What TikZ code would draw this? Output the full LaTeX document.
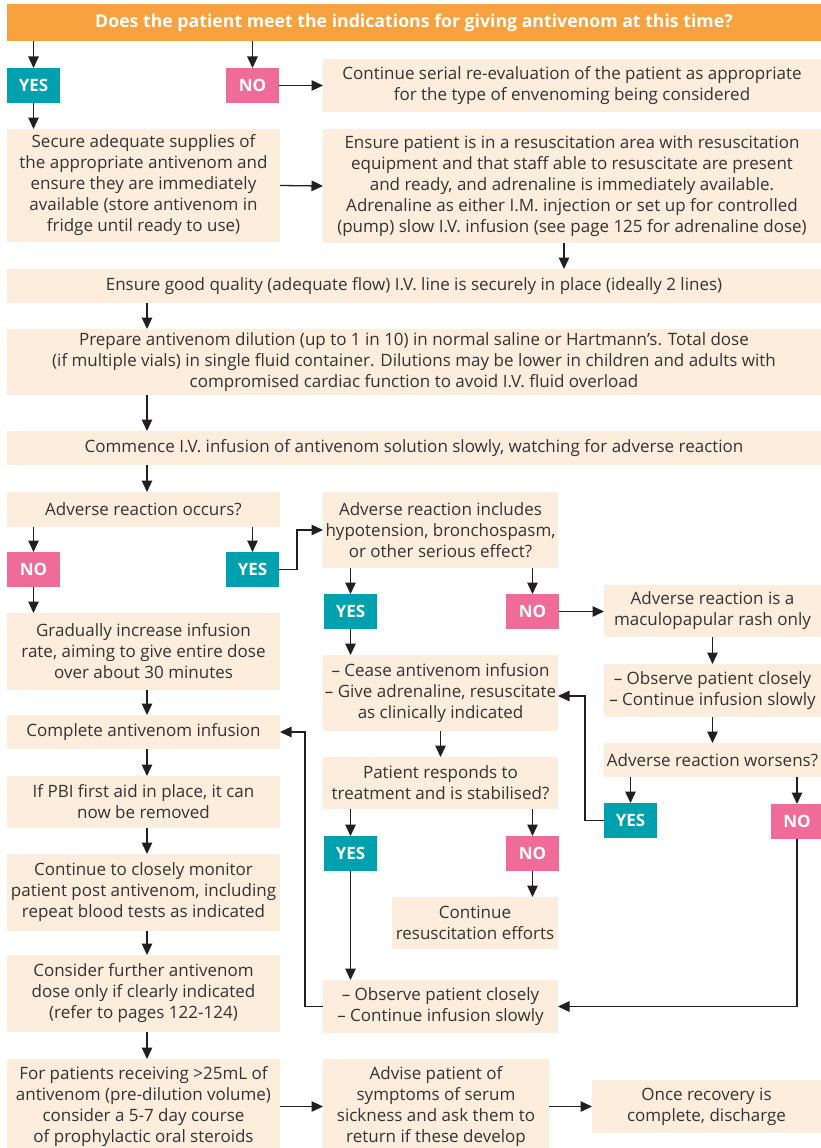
\documentclass[tikz,border=0pt]{standalone}
\usepackage{fontspec}
\setmainfont{Open Sans}
\usetikzlibrary{arrows.meta}
\definecolor{barc}{HTML}{F8A13F}
\definecolor{yesc}{HTML}{00A1AF}
\definecolor{noc}{HTML}{EF6C99}
\definecolor{boxc}{HTML}{FDEDDC}
\definecolor{textc}{HTML}{333333}
\definecolor{linec}{HTML}{231F20}
\begin{document}
\begin{tikzpicture}[x=1pt,y=-1pt,
  every node/.style={inner sep=0pt, outer sep=0pt, anchor=north west, align=center,
    font=\fontsize{17}{21}\selectfont},
  box/.style={fill=boxc, text=textc},
  titlebar/.style={fill=barc, text=white, font=\fontsize{17.7}{21}\selectfont\bfseries},
  yesbox/.style={fill=yesc, text=white, minimum width=53pt, minimum height=35pt, font=\fontsize{17}{21}\selectfont\bfseries},
  nobox/.style={fill=noc, text=white, minimum width=53pt, minimum height=35pt, font=\fontsize{17}{21}\selectfont\bfseries},
  arr/.style={draw=linec, line width=1.3pt, -{Triangle[length=11.5pt,width=10.5pt]}},
  lcol/.style={xshift=3.5pt}]
\useasboundingbox (0,0) rectangle (821,1148);
\fill[white] (0,0) rectangle (821,1148);

% top row
\node[titlebar, minimum width=814pt, minimum height=37pt] (title) at (7,4)
  {Does the patient meet the indications for giving antivenom at this time?};
\node[yesbox] (yes1) at (7,68) {YES};
\node[nobox] (no1) at (226,68) {NO};
\node[box, minimum width=498pt, minimum height=53pt] (serial) at (323,59)
  {Continue serial re-evaluation of the patient as appropriate\\for the type of envenoming being considered};
\node[box, minimum width=273pt, minimum height=113pt] (secure) at (7,129)
  {Secure adequate supplies of\\the appropriate antivenom and\\ensure they are immediately\\available (store antivenom in\\fridge until ready to use)};
\node[box, minimum width=498pt, minimum height=114pt] (ensure) at (323,129)
  {Ensure patient is in a resuscitation area with resuscitation\\equipment and that staff able to resuscitate are present\\and ready, and adrenaline is immediately available.\\Adrenaline as either I.M. injection or set up for controlled\\(pump) slow I.V. infusion (see page 125 for adrenaline dose)};

% full-width steps
\node[box, minimum width=814pt, minimum height=34pt] (ivline) at (7,269)
  {Ensure good quality (adequate flow) I.V. line is securely in place (ideally 2 lines)};
\node[box, minimum width=814pt, minimum height=66pt] (prepare) at (7,329)
  {Prepare antivenom dilution (up to 1 in 10) in normal saline or Hartmann’s. Total dose\\(if multiple vials) in single fluid container. Dilutions may be lower in children and adults with\\compromised cardiac function to avoid I.V. fluid overload};
\node[box, minimum width=814pt, minimum height=34pt] (commence) at (7,431)
  {Commence I.V. infusion of antivenom solution slowly, watching for adverse reaction};

% left column
\node[box, minimum width=273pt, minimum height=35pt] (occurs) at (7,492) {Adverse reaction occurs?};
\node[nobox] (no2) at (7,552) {NO};
\node[yesbox] (yes2) at (226,552) {YES};
\node[box, minimum width=273pt, minimum height=77pt] (gradual) at (7,613)
  {Gradually increase infusion\\rate, aiming to give entire dose\\over about 30 minutes};
\node[box, minimum width=273pt, minimum height=34pt] (complete) at (7,715) {Complete antivenom infusion};
\node[box, minimum width=273pt, minimum height=52pt] (pbi) at (7,776)
  {If PBI first aid in place, it can\\now be removed};
\node[box, minimum width=273pt, minimum height=77pt] (monitor) at (7,854)
  {Continue to closely monitor\\patient post antivenom, including\\repeat blood tests as indicated};
\node[box, minimum width=273pt, minimum height=77pt] (consider) at (7,955)
  {Consider further antivenom\\dose only if clearly indicated\\(refer to pages 122-124)};
\node[box, minimum width=273pt, minimum height=95pt] (forpat) at (7,1059)
  {For patients receiving >25mL of\\antivenom (pre-dilution volume)\\consider a 5-7 day course\\of prophylactic oral steroids};

% middle column
\node[box, minimum width=235pt, minimum height=76pt] (includes) at (323,492)
  {Adverse reaction includes\\hypotension, bronchospasm,\\or other serious effect?};
\node[yesbox] (yes3) at (324,594) {YES};
\node[nobox] (no3) at (506,594) {NO};
\node[box, minimum width=235pt, minimum height=76pt] (cease) at (323,655)
  {– Cease antivenom infusion\\– Give adrenaline, resuscitate\\as clinically indicated};
\node[box, minimum width=235pt, minimum height=52pt] (responds) at (323,757)
  {Patient responds to\\treatment and is stabilised?};
\node[yesbox] (yes5) at (324,836) {YES};
\node[nobox] (no5) at (506,836) {NO};
\node[box, minimum width=166pt, minimum height=52pt] (resus) at (392,897)
  {Continue\\resuscitation efforts};
\node[box, minimum width=235pt, minimum height=53pt] (observe2) at (323,980)
  {– Observe patient closely\\– Continue infusion slowly};
\node[box, minimum width=226pt, minimum height=95pt] (advise) at (323,1059)
  {Advise patient of\\symptoms of serum\\sickness and ask them to\\return if these develop};

% right column
\node[box, minimum width=217pt, minimum height=52pt] (rash) at (604,585)
  {Adverse reaction is a\\maculopapular rash only};
\node[box, minimum width=217pt, minimum height=53pt] (observe1) at (604,664)
  {– Observe patient closely\\– Continue infusion slowly};
\node[box, minimum width=217pt, minimum height=34pt] (worsens) at (604,743) {Adverse reaction worsens?};
\node[yesbox] (yes4) at (604,803) {YES};
\node[nobox, minimum width=52pt] (no4) at (771,804) {NO};
\node[box, minimum width=229pt, minimum height=53pt] (recovery) at (592,1080)
  {Once recovery is\\complete, discharge};

% connectors: top
\draw[arr] (title.south -| yes1.north) -- (yes1.north);
\draw[arr] (title.south -| no1.north) -- (no1.north);
\draw[arr] (no1.east) -- (serial.west);
\draw[arr] (yes1.south) -- (yes1.south |- secure.north);
\draw[arr] (secure.east) -- (ensure.west);
\draw[arr] ([xshift=-8pt]ensure.south) -- ([xshift=-8pt]ensure.south |- ivline.north);
\draw[arr] ([lcol]ivline.south -| occurs.north) -- ([lcol]prepare.north -| occurs.north);
\draw[arr] ([lcol]prepare.south -| occurs.north) -- ([lcol]commence.north -| occurs.north);
\draw[arr] ([lcol]commence.south -| occurs.north) -- ([lcol]occurs.north);

% connectors: left column
\draw[arr] (occurs.south -| no2.north) -- (no2.north);
\draw[arr] (occurs.south -| yes2.north) -- (yes2.north);
\draw[arr] (no2.south) -- (no2.south |- gradual.north);
\draw[arr] ([lcol]gradual.south) -- ([lcol]complete.north);
\draw[arr] ([lcol]complete.south) -- ([lcol]pbi.north);
\draw[arr] ([lcol]pbi.south) -- ([lcol]monitor.north);
\draw[arr] ([lcol]monitor.south) -- ([lcol]consider.north);
\draw[arr] ([lcol]consider.south) -- ([lcol]forpat.north);
\draw[arr] (forpat.east |- advise.east) -- (advise.east -| advise.west);
\draw[arr] (advise.east |- recovery.west) -- (recovery.west);

% connectors: middle and right
\draw[arr] (yes2.east) -- ++(18,0) |- (includes.west);
\draw[arr] (includes.south -| yes3.north) -- (yes3.north);
\draw[arr] (includes.south -| no3.north) -- (no3.north);
\draw[arr] (no3.east) -- (no3.east -| rash.west);
\draw[arr] (yes3.south) -- (yes3.south |- cease.north);
\draw[arr] (rash.south) -- (observe1.north);
\draw[arr] (observe1.south -| rash.south) -- (worsens.north -| rash.south);
\draw[arr] (worsens.south -| yes4.north) -- (yes4.north);
\draw[arr] (worsens.south -| no4.north) -- (no4.north);
\draw[arr] (yes4.west) -- ++(-19,0) |- ([yshift=-3pt]cease.east);
\draw[arr] (cease.south) -- (cease.south |- responds.north);
\draw[arr] (responds.south -| yes5.north) -- (yes5.north);
\draw[arr] (responds.south -| no5.north) -- (no5.north);
\draw[arr] (no5.south) -- (no5.south |- resus.north);
\draw[arr] (yes5.south) -- (yes5.south |- observe2.north);
\draw[arr] (no4.south) |- (observe2.east);
\draw[arr] (observe2.west) -- ++(-18,0) |- (complete.east);
\end{tikzpicture}
\end{document}
